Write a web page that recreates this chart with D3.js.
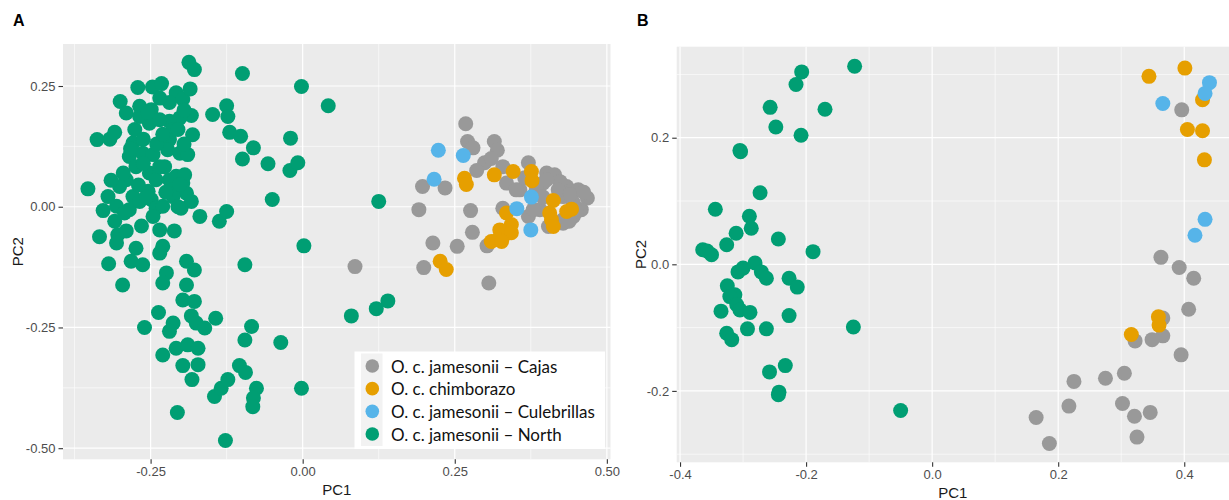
<!DOCTYPE html>
<html>
<head>
<meta charset="utf-8">
<script src="https://cdn.jsdelivr.net/npm/d3@7"></script>
<style>
  body { margin: 0; background: #fff; }
  svg { display: block; }
</style>
</head>
<body>
<svg id="chart" width="1229" height="500"></svg>
<script>
// Population groups, in drawing order
const groups = [
  "O. c. jamesonii – Cajas",
  "O. c. chimborazo",
  "O. c. jamesonii – Culebrillas",
  "O. c. jamesonii – North"
];

// ---- Panel A: PC1 / PC2 scores ----
const panelA_cajas = [
  [0.268,0.172],[0.271,0.135],[0.280,0.122],[0.315,0.135],[0.320,0.117],[0.299,0.091],
  [0.286,0.075],[0.329,0.083],[0.371,0.091],[0.401,0.070],[0.414,0.066],[0.335,0.049],
  [0.357,0.035],[0.395,0.049],[0.434,0.042],[0.453,0.035],[0.468,0.018],[0.458,-0.006],
  [0.445,0.008],[0.428,0.021],[0.423,0.052],[0.384,0.035],[0.390,-0.006],[0.428,-0.027],
  [0.445,-0.020],[0.409,-0.037],[0.371,-0.020],[0.379,-0.006],[0.329,-0.003],[0.197,0.042],
  [0.234,0.039],[0.191,-0.006],[0.276,-0.008],[0.279,-0.053],[0.214,-0.075],[0.254,-0.082],
  [0.303,-0.081],[0.199,-0.126],[0.306,-0.158],[0.086,-0.124],[0.404,-0.041],[0.428,-0.034],
  [0.456,-0.006],[0.401,0.056],[0.351,0.035],[0.420,0.035],[0.440,0.025],[0.462,0.030],
  [0.450,-0.010],[0.438,-0.030],[0.395,0.020],[0.365,0.060],[0.310,0.100]
];
const panelA_chimborazo = [
  [0.266,0.059],[0.269,0.046],[0.315,0.066],[0.346,0.073],[0.376,0.073],[0.377,0.054],
  [0.412,0.013],[0.406,-0.013],[0.409,-0.027],[0.412,-0.041],[0.434,-0.010],[0.442,-0.005],
  [0.335,-0.013],[0.343,-0.037],[0.324,-0.048],[0.332,-0.058],[0.343,-0.054],[0.310,-0.072],
  [0.321,-0.068],[0.327,-0.072],[0.226,-0.113],[0.236,-0.130]
];
const panelA_culebrillas = [
  [0.223,0.117],[0.264,0.106],[0.216,0.057],[0.376,0.020],[0.352,-0.004],[0.375,-0.048]
];
const panelA_north = [
  [-0.187,0.299],[-0.178,0.284],[-0.099,0.276],[-0.002,0.249],[-0.271,0.247],[-0.247,0.248],
  [-0.232,0.255],[-0.208,0.236],[-0.219,0.216],[-0.197,0.223],[-0.185,0.244],[-0.300,0.218],
  [-0.290,0.194],[-0.268,0.208],[-0.249,0.201],[-0.252,0.173],[-0.268,0.187],[-0.183,0.189],
  [-0.202,0.184],[-0.219,0.177],[-0.148,0.191],[-0.125,0.209],[-0.123,0.187],[-0.181,0.149],
  [-0.120,0.154],[-0.102,0.146],[-0.081,0.122],[-0.020,0.142],[-0.338,0.139],[-0.317,0.140],
  [-0.309,0.154],[-0.279,0.132],[-0.285,0.104],[-0.274,0.083],[-0.263,0.111],[-0.246,0.108],
  [-0.219,0.139],[-0.222,0.118],[-0.227,0.083],[-0.202,0.111],[-0.189,0.108],[-0.219,0.056],
  [-0.099,0.099],[-0.057,0.089],[-0.021,0.075],[-0.008,0.091],[-0.050,0.015],[-0.353,0.037],
  [-0.320,0.021],[-0.328,-0.008],[-0.306,0.001],[-0.290,0.056],[-0.301,0.042],[-0.279,0.021],
  [-0.285,-0.006],[-0.252,0.070],[-0.241,0.056],[-0.254,0.032],[-0.249,0.015],[-0.241,-0.003],
  [-0.230,0.001],[-0.213,0.035],[-0.197,0.049],[-0.191,0.028],[-0.183,0.011],[-0.200,-0.003],
  [-0.213,0.021],[-0.169,-0.020],[-0.137,-0.030],[-0.125,-0.010],[-0.309,-0.030],[-0.304,-0.058],
  [-0.334,-0.062],[-0.246,-0.020],[-0.235,-0.048],[-0.211,-0.050],[0.002,-0.081],[-0.274,-0.086],
  [-0.230,-0.082],[-0.306,-0.075],[-0.282,-0.113],[-0.263,-0.120],[-0.235,-0.096],[-0.319,-0.118],
  [-0.296,-0.162],[-0.224,-0.137],[-0.230,-0.158],[-0.191,-0.113],[-0.178,-0.131],[-0.095,-0.120],
  [-0.191,-0.162],[-0.197,-0.193],[-0.178,-0.196],[-0.237,-0.219],[-0.213,-0.241],[-0.219,-0.258],
  [-0.260,-0.250],[-0.183,-0.226],[-0.175,-0.241],[-0.161,-0.251],[-0.143,-0.231],[-0.084,-0.248],
  [-0.095,-0.276],[-0.036,-0.281],[-0.230,-0.307],[-0.208,-0.293],[-0.189,-0.286],[-0.172,-0.293],
  [-0.197,-0.329],[-0.172,-0.327],[-0.182,-0.358],[-0.104,-0.329],[-0.094,-0.343],[-0.145,-0.393],
  [-0.134,-0.376],[-0.123,-0.358],[-0.076,-0.376],[-0.081,-0.396],[-0.082,-0.414],[-0.002,-0.376],
  [-0.206,-0.426],[-0.127,-0.484],[0.042,0.209],[0.125,0.011],[0.140,-0.195],[0.121,-0.211],
  [0.080,-0.226],[-0.235,0.180],[-0.213,0.160],[-0.235,0.083],[-0.208,0.063],[-0.194,0.066],
  [-0.202,0.046],[-0.268,0.011],[-0.257,0.021],[-0.293,-0.013],[-0.276,0.160],[-0.262,0.140],
  [-0.283,0.120],[-0.240,0.130],[-0.230,0.150],[-0.205,0.160],[-0.195,0.130],[-0.262,0.090],
  [-0.295,0.070],[-0.315,0.055],[-0.270,0.045],[-0.225,0.030],[-0.205,0.000],[-0.265,-0.040],
  [-0.290,-0.050],[-0.255,0.195],[-0.235,0.225],[-0.195,0.200]
];

// ---- Panel B: PC1 / PC2 scores ----
const panelB_cajas = [
  [0.396,0.244],[0.363,0.011],[0.392,-0.005],[0.415,-0.022],[0.407,-0.071],[0.366,-0.085],
  [0.366,-0.113],[0.349,-0.119],[0.322,-0.121],[0.395,-0.143],[0.305,-0.172],[0.275,-0.180],
  [0.225,-0.185],[0.217,-0.224],[0.302,-0.220],[0.346,-0.234],[0.321,-0.240],[0.165,-0.242],
  [0.325,-0.273],[0.186,-0.283]
];
const panelB_chimborazo = [
  [0.344,0.297],[0.401,0.310],[0.429,0.260],[0.405,0.213],[0.429,0.211],[0.432,0.165],
  [0.359,-0.083],[0.360,-0.096],[0.316,-0.111]
];
const panelB_culebrillas = [
  [0.440,0.287],[0.433,0.270],[0.366,0.254],[0.433,0.071],[0.417,0.046]
];
const panelB_north = [
  [-0.123,0.313],[-0.207,0.304],[-0.216,0.284],[-0.257,0.248],[-0.170,0.245],[-0.248,0.217],
  [-0.208,0.204],[-0.305,0.180],[-0.304,0.178],[-0.273,0.113],[-0.344,0.087],[-0.290,0.076],
  [-0.287,0.057],[-0.311,0.049],[-0.244,0.040],[-0.326,0.031],[-0.364,0.023],[-0.357,0.021],
  [-0.350,0.015],[-0.189,0.020],[-0.281,0.002],[-0.308,-0.012],[-0.300,-0.006],[-0.271,-0.012],
  [-0.263,-0.022],[-0.227,-0.022],[-0.214,-0.036],[-0.325,-0.034],[-0.313,-0.048],[-0.321,-0.051],
  [-0.310,-0.064],[-0.305,-0.072],[-0.289,-0.076],[-0.335,-0.074],[-0.227,-0.081],[-0.326,-0.109],
  [-0.318,-0.119],[-0.293,-0.102],[-0.263,-0.102],[-0.125,-0.099],[-0.233,-0.160],[-0.258,-0.170],
  [-0.243,-0.202],[-0.244,-0.206],[-0.050,-0.231]
];

// Axis ticks and labels
const ticksA_x = [-0.25, 0, 0.25, 0.5];
const labelsA_x = ["-0.25", "0.00", "0.25", "0.50"];
const ticksA_y = [-0.5, -0.25, 0, 0.25];
const labelsA_y = ["-0.50", "-0.25", "0.00", "0.25"];
const minorA_x = [-0.375, -0.125, 0.125, 0.375];
const minorA_y = [-0.375, -0.125, 0.125];

const ticksB_x = [-0.4, -0.2, 0, 0.2, 0.4];
const labelsB_x = ["-0.4", "-0.2", "0.0", "0.2", "0.4"];
const ticksB_y = [-0.2, 0, 0.2];
const labelsB_y = ["-0.2", "0.0", "0.2"];
const minorB_x = [-0.3, -0.1, 0.1, 0.3];
const minorB_y = [-0.3, -0.1, 0.1, 0.3];

// Okabe–Ito colours for the four groups
const palette = ["#999999", "#E69F00", "#56B4E9", "#009E73"];

const svg = d3.select("#chart");
const tickFont = "'Liberation Sans', Arial, sans-serif";

function drawPanel(cfg) {
  const x = d3.scaleLinear().domain(cfg.xDomain).range([cfg.left, cfg.right]);
  const y = d3.scaleLinear().domain(cfg.yDomain).range([cfg.bottom, cfg.top]);
  const g = svg.append("g");

  g.append("rect")
    .attr("x", cfg.left).attr("y", cfg.top)
    .attr("width", cfg.right - cfg.left).attr("height", cfg.bottom - cfg.top)
    .attr("fill", "#EBEBEB");

  // minor then major grid
  g.selectAll(".mx").data(cfg.minorX).join("line")
    .attr("x1", d => x(d)).attr("x2", d => x(d))
    .attr("y1", cfg.top).attr("y2", cfg.bottom)
    .attr("stroke", "#fff").attr("stroke-width", 0.6);
  g.selectAll(".my").data(cfg.minorY).join("line")
    .attr("y1", d => y(d)).attr("y2", d => y(d))
    .attr("x1", cfg.left).attr("x2", cfg.right)
    .attr("stroke", "#fff").attr("stroke-width", 0.6);
  g.selectAll(".gx").data(cfg.ticksX).join("line")
    .attr("x1", d => x(d)).attr("x2", d => x(d))
    .attr("y1", cfg.top).attr("y2", cfg.bottom)
    .attr("stroke", "#fff").attr("stroke-width", 1.2);
  g.selectAll(".gy").data(cfg.ticksY).join("line")
    .attr("y1", d => y(d)).attr("y2", d => y(d))
    .attr("x1", cfg.left).attr("x2", cfg.right)
    .attr("stroke", "#fff").attr("stroke-width", 1.2);

  // points, one layer per group
  cfg.series.forEach((pts, i) => {
    g.append("g").selectAll("circle").data(pts).join("circle")
      .attr("cx", d => x(d[0])).attr("cy", d => y(d[1]))
      .attr("r", 7.5).attr("fill", palette[i]);
  });

  // axes
  const ax = g.append("g").attr("transform", `translate(0,${cfg.bottom})`)
    .call(d3.axisBottom(x).tickValues(cfg.ticksX)
      .tickFormat((d, i) => cfg.labelsX[i]).tickSize(4.5).tickPadding(2.5));
  const ay = g.append("g").attr("transform", `translate(${cfg.left},0)`)
    .call(d3.axisLeft(y).tickValues(cfg.ticksY)
      .tickFormat((d, i) => cfg.labelsY[i]).tickSize(4.5).tickPadding(3));
  [ax, ay].forEach(a => {
    a.select(".domain").remove();
    a.selectAll(".tick line").attr("stroke", "#333333").attr("stroke-width", 1.1);
    a.selectAll(".tick text").attr("fill", "#4D4D4D")
      .style("font-family", tickFont).style("font-size", "13px");
  });

  // axis titles
  g.append("text")
    .attr("x", (cfg.left + cfg.right) / 2).attr("y", cfg.bottom + 36)
    .attr("text-anchor", "middle")
    .style("font-family", tickFont).style("font-size", "15px").attr("fill", "#1a1a1a")
    .text("PC1");
  g.append("text")
    .attr("transform", `translate(${cfg.yTitleX},${(cfg.top + cfg.bottom) / 2}) rotate(-90)`)
    .attr("text-anchor", "middle").attr("dominant-baseline", "central")
    .style("font-family", tickFont).style("font-size", "15px").attr("fill", "#1a1a1a")
    .text("PC2");

  // panel tag
  g.append("text")
    .attr("x", cfg.tagX).attr("y", 26)
    .style("font-family", tickFont).style("font-size", "16px").style("font-weight", "bold")
    .text(cfg.tag);
}

drawPanel({
  tag: "A", tagX: 13,
  left: 63, right: 610.5, top: 44, bottom: 459.3,
  xDomain: [-0.394, 0.506], yDomain: [-0.523, 0.337],
  ticksX: ticksA_x, labelsX: labelsA_x, ticksY: ticksA_y, labelsY: labelsA_y,
  minorX: minorA_x, minorY: minorA_y,
  yTitleX: 17,
  series: [panelA_cajas, panelA_chimborazo, panelA_culebrillas, panelA_north]
});

drawPanel({
  tag: "B", tagX: 637,
  left: 676.7, right: 1229, top: 46.7, bottom: 462.3,
  xDomain: [-0.4053, 0.471], yDomain: [-0.3128, 0.3438],
  ticksX: ticksB_x, labelsX: labelsB_x, ticksY: ticksB_y, labelsY: labelsB_y,
  minorX: minorB_x, minorY: minorB_y,
  yTitleX: 640,
  series: [panelB_cajas, panelB_chimborazo, panelB_culebrillas, panelB_north]
});

// legend box inside panel A
const leg = svg.append("g");
leg.append("rect").attr("x", 354.5).attr("y", 351.5).attr("width", 250.5).attr("height", 97.5)
  .attr("fill", "#fff");
leg.append("rect").attr("x", 361).attr("y", 353.5).attr("width", 21.5).attr("height", 92.5)
  .attr("fill", "#F2F2F2");
const legY = d3.scalePoint().domain(groups).range([366, 434]);
leg.selectAll("circle").data(groups).join("circle")
  .attr("cx", 372.3).attr("cy", d => legY(d)).attr("r", 6.8)
  .attr("fill", (d, i) => palette[i]);
const legText = leg.selectAll("text").data(groups).join("text")
  .attr("x", 391).attr("y", d => legY(d)).attr("dominant-baseline", "central")
  .style("font-family", "Lato, 'Open Sans', sans-serif").style("font-size", "16px")
  .attr("fill", "#111")
  .text(d => d);
// size the legend labels so the longest one spans the box
const longest = d3.max(legText.nodes(), n => n.getComputedTextLength());
legText.style("font-size", (16 * 204 / longest).toFixed(2) + "px");
</script>
</body>
</html>
